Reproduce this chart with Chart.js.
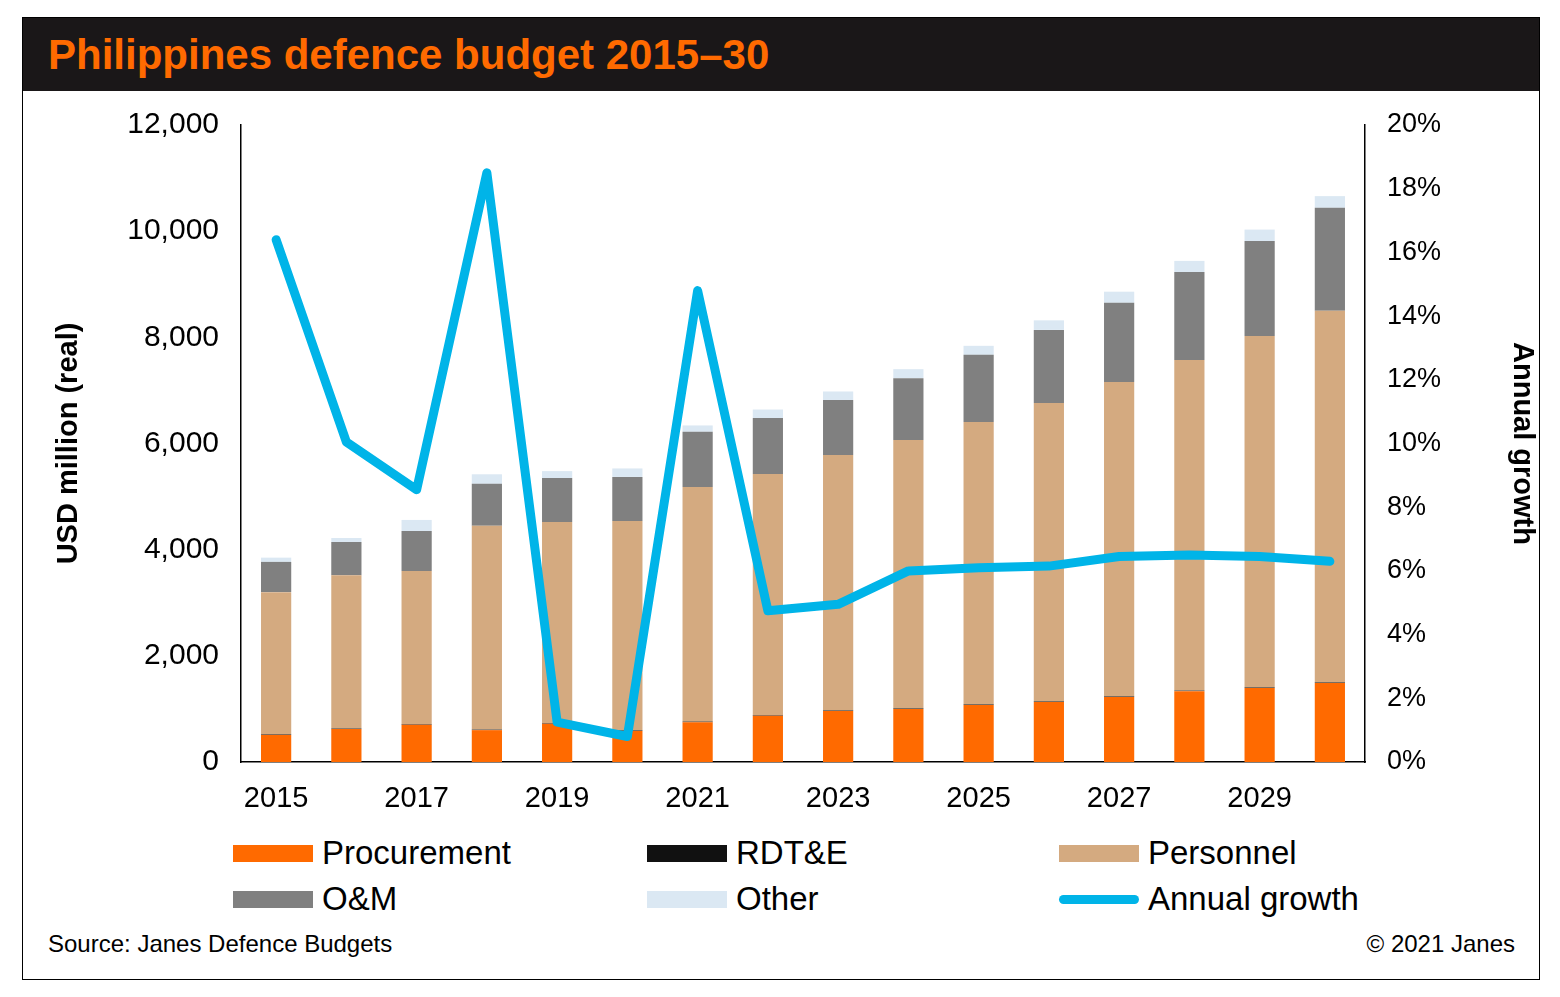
<!DOCTYPE html>
<html>
<head>
<meta charset="utf-8">
<script src="https://cdn.jsdelivr.net/npm/chart.js@4"></script>
<style>
  body { margin: 0; background: #fff; font-family: 'Liberation Sans', Arial, sans-serif; }
  #frame { position: absolute; left: 22px; top: 17px; width: 1516px; height: 961px; border: 1px solid #000; }
  #title { position: absolute; left: 0; top: 0; width: 100%; height: 73px; background: #1a1718; color: #ff6a00; font-weight: bold; font-size: 42px; line-height: 73px; padding-left: 25px; box-sizing: border-box; }
  #wrap { position: absolute; left: 0; top: 73px; width: 1516px; height: 731px; }
  .leg { position: absolute; font-size: 33px; color: #000; display: flex; align-items: center; }
  .sw { width: 80px; height: 17px; margin-right: 9px; }
  #src { position: absolute; left: 25px; top: 912px; font-size: 24px; }
  #copy { position: absolute; right: 24px; top: 912px; font-size: 24px; }
</style>
</head>
<body>
<div id="frame">
  <div id="title">Philippines defence budget 2015–30</div>
  <div id="wrap"><canvas id="budgetChart"></canvas></div>
  <div class="leg" style="left:210px;top:816px"><div class="sw" style="background:#ff6a00"></div>Procurement</div>
  <div class="leg" style="left:624px;top:816px"><div class="sw" style="background:#111"></div>RDT&amp;E</div>
  <div class="leg" style="left:1036px;top:816px"><div class="sw" style="background:#d4aa80"></div>Personnel</div>
  <div class="leg" style="left:210px;top:862px"><div class="sw" style="background:#808080"></div>O&amp;M</div>
  <div class="leg" style="left:624px;top:862px"><div class="sw" style="background:#dbe8f3"></div>Other</div>
  <div class="leg" style="left:1036px;top:862px"><div class="sw" style="background:#00b4e8;height:9px;border-radius:5px"></div>Annual growth</div>
  <div id="src">Source: Janes Defence Budgets</div>
  <div id="copy">© 2021 Janes</div>
</div>
<script>
const years = ['2015','2016','2017','2018','2019','2020','2021','2022','2023','2024','2025','2026','2027','2028','2029','2030'];
const procurement = [510, 620, 700, 600, 720, 585, 750, 870, 960, 1000, 1075, 1130, 1225, 1335, 1395, 1490];
const rdte =        [10, 10, 10, 10, 10, 10, 10, 10, 10, 10, 10, 10, 10, 10, 10, 10];
const personnel =   [2680, 2890, 2890, 3840, 3790, 3945, 4420, 4545, 4815, 5055, 5320, 5625, 5925, 6230, 6620, 7000];
const om =          [570, 625, 750, 790, 830, 830, 1040, 1055, 1035, 1165, 1265, 1375, 1490, 1655, 1790, 1940];
const other =       [80, 75, 210, 180, 130, 160, 120, 160, 160, 170, 170, 180, 210, 210, 215, 220];
const growth =      [16.4, 10.05, 8.55, 18.5, 1.25, 0.8, 14.8, 4.75, 4.95, 6.0, 6.1, 6.15, 6.45, 6.5, 6.45, 6.3];

Chart.defaults.font.family = "'Liberation Sans', Arial, sans-serif";
Chart.defaults.color = '#000';

const bar = (label, data, color) => ({
    type: 'bar', label, data, backgroundColor: color, yAxisID: 'y',
    stack: 's', barPercentage: 0.43, categoryPercentage: 1, order: 2
});

new Chart(document.getElementById('budgetChart'), {
    data: {
        labels: years,
        datasets: [
            {
                type: 'line', label: 'Annual growth', data: growth, yAxisID: 'y1',
                borderColor: '#00b4e8', borderWidth: 9, pointRadius: 0, tension: 0, order: 1,
                borderJoinStyle: 'round', borderCapStyle: 'round'
            },
            bar('Procurement', procurement, '#ff6a00'),
            bar('RDT&E', rdte, '#111'),
            bar('Personnel', personnel, '#d4aa80'),
            bar('O&M', om, '#808080'),
            bar('Other', other, '#dbe8f3')
        ]
    },
    options: {
        responsive: true,
        maintainAspectRatio: false,
        animation: false,
        layout: { padding: { top: 34, left: 25, right: 0, bottom: 0 } },
        plugins: { legend: { display: false }, tooltip: { enabled: false } },
        scales: {
            x: {
                stacked: true,
                grid: { display: false, drawTicks: true, tickLength: 8 },
                border: { color: '#000', width: 1.5 },
                ticks: {
                    autoSkip: false, maxRotation: 0, font: { size: 29 }, padding: 12,
                    callback: (v, i) => i % 2 === 0 ? years[i] : ''
                },
                afterFit: s => { s.height = 60; }
            },
            y: {
                stacked: true, min: 0, max: 12000,
                grid: { display: false, drawTicks: true, tickLength: 8 },
                border: { color: '#000', width: 1.5 },
                ticks: { stepSize: 2000, font: { size: 30 }, padding: 14, callback: v => v.toLocaleString('en-US') },
                title: { display: true, text: 'USD million (real)', font: { size: 29, weight: 'bold' } },
                afterFit: s => { s.width = 193; }
            },
            y1: {
                position: 'right', min: 0, max: 20,
                grid: { display: false, drawTicks: true, tickLength: 8 },
                border: { color: '#000', width: 1.5 },
                ticks: { stepSize: 2, font: { size: 27 }, padding: 14, callback: v => v + '%' },
                title: { display: true, text: 'Annual growth', font: { size: 29, weight: 'bold' }, padding: { top: 0, bottom: 30 } },
                afterFit: s => { s.width = 174; }
            }
        }
    }
});
</script>
</body>
</html>
